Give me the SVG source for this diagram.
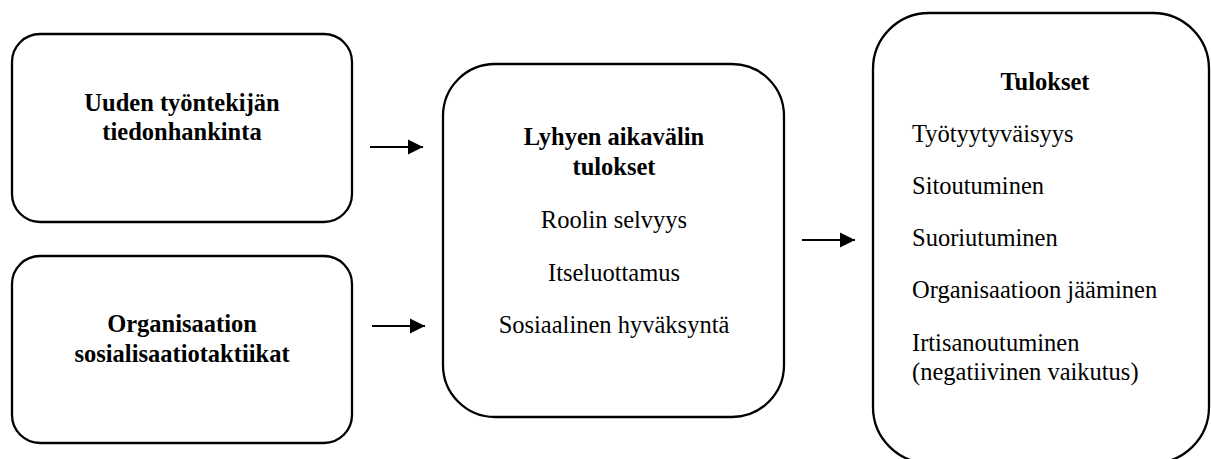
<svg xmlns="http://www.w3.org/2000/svg" width="1211" height="459" viewBox="0 0 1211 459">
<defs>
<style>
.box{fill:#fff;stroke:#000;stroke-width:2.3}
.t{font-family:'Liberation Serif','Times New Roman',serif;font-size:24.5px;fill:#000}
.b{font-weight:bold}
.c{text-anchor:middle}
.conn{stroke:#000;stroke-width:2;fill:none}
</style>
<marker id="ah" markerUnits="userSpaceOnUse" markerWidth="16" markerHeight="16" viewBox="0 0 16 16" refX="15" refY="8" orient="auto">
<path d="M0,0.5 L15,8 L0,15.5 Z" fill="#000"/>
</marker>
</defs>
<rect width="1211" height="459" fill="#fff"/>
<g id="node-tiedonhankinta">
<rect class="box" x="12" y="34" width="340" height="188" rx="28"/>
<text class="t b c" x="182" y="111">Uuden työntekijän</text>
<text class="t b c" x="182" y="140">tiedonhankinta</text>
</g>
<g id="node-sosialisaatio">
<rect class="box" x="12" y="256" width="340" height="187" rx="28"/>
<text class="t b c" x="182" y="332">Organisaation</text>
<text class="t b c" x="182" y="362">sosialisaatiotaktiikat</text>
</g>
<g id="node-lyhyen">
<rect class="box" x="443" y="64" width="341" height="353" rx="52"/>
<text class="t b c" x="614" y="145">Lyhyen aikavälin</text>
<text class="t b c" x="614" y="175">tulokset</text>
<text class="t c" x="614" y="228">Roolin selvyys</text>
<text class="t c" x="614" y="281">Itseluottamus</text>
<text class="t c" x="614" y="333">Sosiaalinen hyväksyntä</text>
</g>
<g id="node-tulokset">
<rect class="box" x="873" y="13" width="336" height="450" rx="56"/>
<text class="t b c" x="1045" y="90">Tulokset</text>
<text class="t" x="912" y="142">Työtyytyväisyys</text>
<text class="t" x="912" y="194">Sitoutuminen</text>
<text class="t" x="912" y="246">Suoriutuminen</text>
<text class="t" x="912" y="298">Organisaatioon jääminen</text>
<text class="t" x="912" y="351">Irtisanoutuminen</text>
<text class="t" x="912" y="380">(negatiivinen vaikutus)</text>
</g>
<g id="connectors">
<line class="conn" x1="370" y1="147" x2="423" y2="147" marker-end="url(#ah)"/>
<line class="conn" x1="372" y1="326" x2="425" y2="326" marker-end="url(#ah)"/>
<line class="conn" x1="802" y1="240" x2="855" y2="240" marker-end="url(#ah)"/>
</g>
</svg>
